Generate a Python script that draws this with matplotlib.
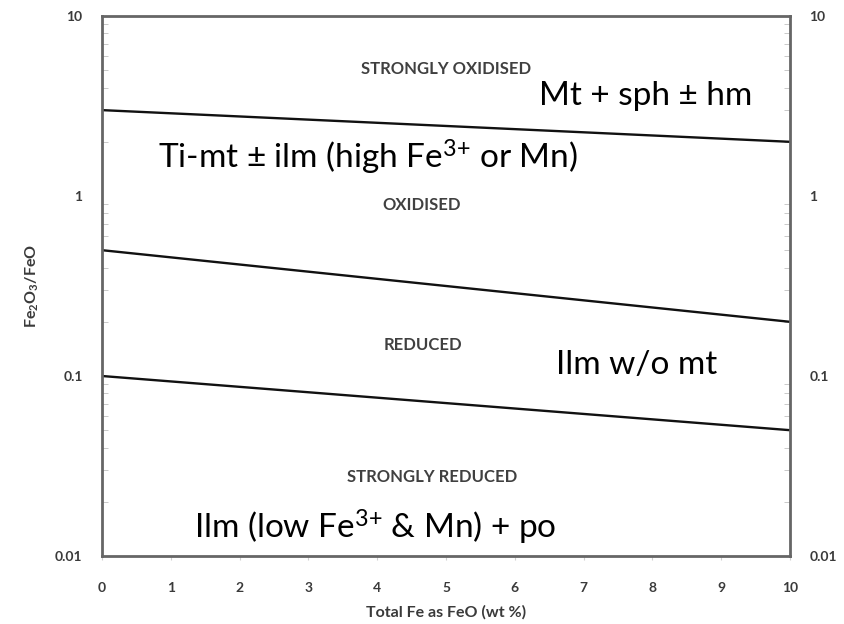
import matplotlib
matplotlib.use("Agg")
import matplotlib.pyplot as plt
from matplotlib.ticker import FixedLocator, NullFormatter, LogLocator

# Data
x_ends = [0, 10]
line_strongly_oxidised = [3.0, 2.0]
line_oxidised = [0.5, 0.2]
line_reduced = [0.1, 0.05]
x_ticks = list(range(0, 11))
y_ticks = [0.01, 0.1, 1, 10]
y_tick_labels = ["0.01", "0.1", "1", "10"]

zone_labels = ["STRONGLY OXIDISED", "OXIDISED", "REDUCED", "STRONGLY REDUCED"]
zone_pos = [(5.0, 5.1), (4.65, 0.89), (4.67, 0.149), (4.8, 0.0275)]
mineral_labels = ["Mt + sph ± hm", "Ti-mt ± ilm (high Fe$^{3{+}}$ or Mn)",
                  "Ilm w/o mt", "Ilm (low Fe$^{3{+}}$ & Mn) + po"]
mineral_pos = [(7.9, 3.6), (3.86, 1.63), (7.77, 0.115), (3.97, 0.0145)]

plt.rcParams['font.family'] = ['Lato', 'DejaVu Sans']
plt.rcParams['mathtext.fontset'] = 'custom'
plt.rcParams['mathtext.rm'] = 'Lato'
plt.rcParams['mathtext.it'] = 'Lato'
plt.rcParams['mathtext.bf'] = 'Lato:bold'

fig = plt.figure(figsize=(8.44, 6.24), dpi=100)
ax = fig.add_axes([102/844, 1 - 556/624, (790-102)/844, (556-16)/624])

for yv in (line_strongly_oxidised, line_oxidised, line_reduced):
    ax.plot(x_ends, yv, color='#111111', lw=1.7, solid_capstyle='butt')

ax.set_yscale('log')
ax.set_xlim(0, 10)
ax.set_ylim(0.01, 10)

ax.set_xticks(x_ticks)
ax.set_xticklabels([str(t) for t in x_ticks])
ax.yaxis.set_major_locator(FixedLocator(y_ticks))
ax.set_yticklabels(y_tick_labels)
ax.yaxis.set_minor_locator(LogLocator(base=10, subs=range(2, 10)))
ax.yaxis.set_minor_formatter(NullFormatter())

tick_col = '#3a3a3a'
ax.tick_params(axis='x', which='major', direction='out', length=3, color='#d0d0d0',
               labelsize=10, labelcolor=tick_col, pad=16)
ax.tick_params(axis='y', which='major', direction='in', length=0, labelsize=10,
               labelcolor=tick_col, pad=14, left=True, right=True,
               labelleft=True, labelright=True)
ax.tick_params(axis='y', which='minor', direction='in', length=4, color='#c0c0c0',
               left=True, right=True)
for lab in ax.get_xticklabels() + ax.get_yticklabels():
    lab.set_fontweight('bold')

for sp in ax.spines.values():
    sp.set_color('#666666')
    sp.set_linewidth(2.0)

ax.set_xlabel('Total Fe as FeO (wt %)', fontsize=11.5, fontweight='bold', color=tick_col,
              labelpad=8)
ax.set_ylabel('Fe$_\\mathbf{2}$O$_\\mathbf{3}$/FeO', fontsize=11.5, color=tick_col,
              labelpad=10, fontweight='bold')

for t, (xx, yy) in zip(zone_labels, zone_pos):
    ax.text(xx, yy, t, ha='center', va='center', fontsize=12, fontweight='bold',
            color='#404040')
for t, (xx, yy) in zip(mineral_labels, mineral_pos):
    ax.text(xx, yy, t, ha='center', va='center', fontsize=24, color='black')

fig.savefig('out.png', dpi=100)
